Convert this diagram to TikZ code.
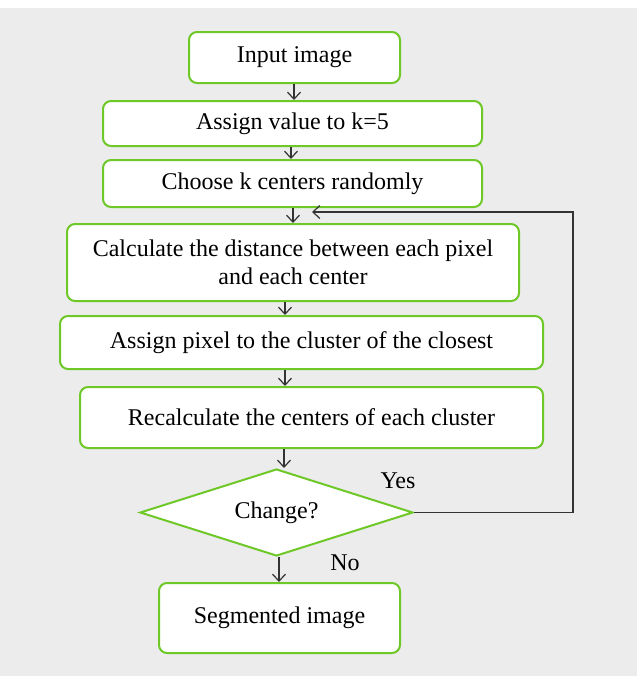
\documentclass[tikz,border=0pt]{standalone}
\usepackage{fontspec}
\setmainfont{Liberation Serif}
\usetikzlibrary{arrows.meta,shapes.geometric}
\definecolor{boxgreen}{RGB}{110,200,40}
\definecolor{bggray}{RGB}{236,236,236}

\begin{document}
\begin{tikzpicture}[x=1pt, y=-1pt,
                    every node/.style={font=\fontsize{24}{28}\selectfont},
                    stepbox/.style={draw=boxgreen, fill=white, line width=2pt,
                                    rounded corners=8pt, inner sep=0pt,
                                    align=center},
                    decide/.style={diamond, draw=boxgreen, fill=white,
                                   line width=2pt, inner sep=0pt, aspect=3.1},
                    arr/.style={draw=black!80, line width=1.2pt,
                                -{Straight Barb[length=7pt,width=13pt]}}]
                      \useasboundingbox (0,0) rectangle (640,689);
                      \fill[bggray] (0,8) rectangle (637,676);

                      \node[stepbox, minimum width=211, minimum height=51] (input) at (294.5, 57.5) {Input image};
                      \node[stepbox, minimum width=379, minimum height=45] (assign) at (292.5, 123.5) {Assign value to k=5};
                      \node[stepbox, minimum width=379, minimum height=47] (choose) at (292.5, 183.5) {Choose k centers randomly};
                      \node[stepbox, minimum width=452, minimum height=77] (calc) at (293, 262.5) {Calculate the distance between each pixel\\and each center};
                      \node[stepbox, minimum width=483, minimum height=53] (pixel) at (301.5, 342.5) {Assign pixel to the cluster of the closest};
                      \node[stepbox, minimum width=463, minimum height=61] (recalc) at (311.5, 417.5) {Recalculate the centers of each cluster};
                      \node[decide, minimum width=273, minimum height=87] (change) at (276.5, 512.5) {Change?};
                      \node[stepbox, minimum width=241, minimum height=70] (seg) at (279.5, 618) {Segmented image};

                      \node (yes) at (398, 481) {Yes};
                      \node (no) at (345, 563) {No};

                      \coordinate (turn1) at (573, 512.5);
                      \coordinate (turn2) at (573, 212);
                      \coordinate (back) at (312, 212);

                      \foreach \i/\j/\x in {input/assign/294, assign/choose/291, choose/calc/293,
                                            calc/pixel/285, pixel/recalc/285, recalc/change/284,
                                            change/seg/279} {
                              \draw[arr] (\i.south -| \x,0) -- (\j.north -| \x,0);
                          }
                      \draw[arr] (change.east) -- (turn1) -- (turn2) -- (back);
                  \end{tikzpicture}
\end{document}
